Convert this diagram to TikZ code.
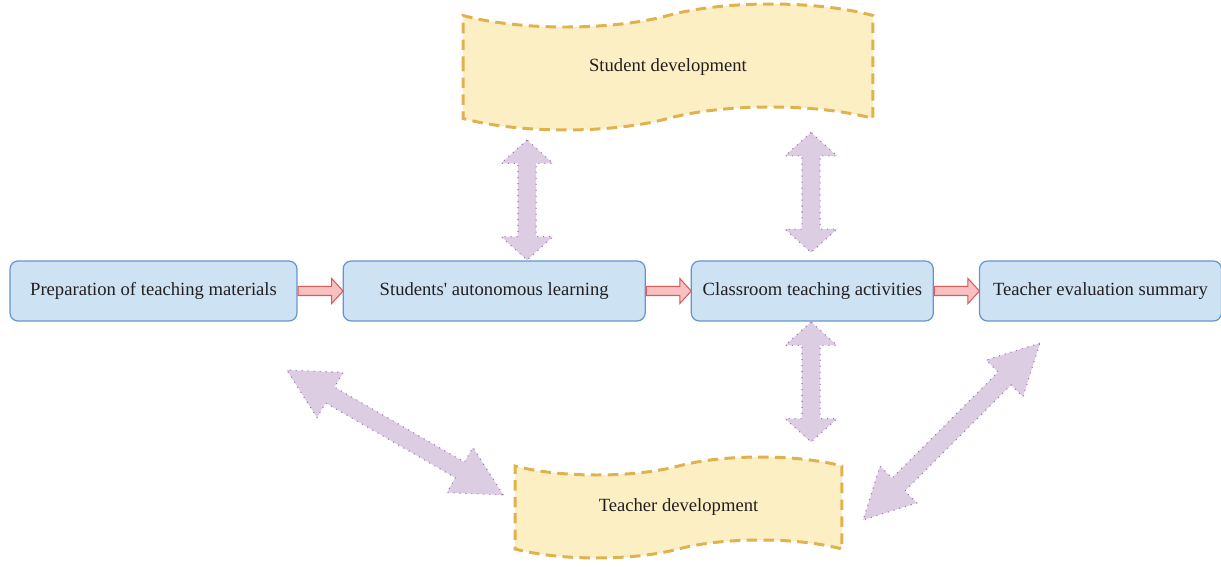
\documentclass[tikz,border=0pt]{standalone}
\usepackage{fontspec}
\setmainfont{Liberation Serif}
\usetikzlibrary{positioning,shapes.arrows,shapes.symbols}
\definecolor{boxFill}{RGB}{205,226,243}
\definecolor{boxLine}{RGB}{100,150,205}
\definecolor{tapeFill}{RGB}{253,239,196}
\definecolor{tapeLine}{RGB}{223,178,78}
\definecolor{flowFill}{RGB}{248,193,193}
\definecolor{flowLine}{RGB}{218,90,90}
\definecolor{linkFill}{RGB}{221,205,227}
\definecolor{linkLine}{RGB}{160,110,180}
\definecolor{textColor}{RGB}{35,31,32}
\tikzstyle{stageBox} = [draw=boxLine, fill=boxFill, line width=0.7pt, rounded corners=0.16cm, minimum height=1.2cm, inner sep=0pt, text=textColor]
\tikzstyle{tapeBox} = [tape, draw=tapeLine, fill=tapeFill, line width=1.7pt, dash pattern=on 6pt off 3.6pt, tape bend top=in and out, tape bend bottom=in and out, text=textColor]
\tikzstyle{flowArrow} = [single arrow, draw=flowLine, fill=flowFill, line width=0.6pt, minimum height=0.9cm, minimum width=0pt, inner xsep=0pt, inner ysep=0.08cm, single arrow head extend=0.16cm, single arrow tip angle=95]
\tikzstyle{linkArrow} = [double arrow, draw=linkLine, fill=linkFill, line width=0.6pt, dash pattern=on 0.6pt off 2.8pt, minimum width=0pt, inner xsep=0pt, inner ysep=0.17cm, double arrow head extend=0.34cm]
\tikzstyle{linkStraight} = [linkArrow, minimum height=2.4cm, double arrow tip angle=96, rotate=90]
\tikzstyle{linkSlant} = [linkArrow, minimum height=5cm, double arrow tip angle=55]
\newcommand{\stageLink}[2]{\node [flowArrow, right=0pt of #1] (#1To#2) {};}

\begin{document}
\begin{tikzpicture}[x=0.02cm, y=-0.02cm, every node/.style={font=\fontsize{10.6}{13}\selectfont}]
        \useasboundingbox (0,0) rectangle (1221,567);

        \node [stageBox, minimum width=5.74cm] (prep) at (153.5,291) {Preparation of teaching materials};
        \node [stageBox, minimum width=6.04cm, right=0.9cm of prep] (auto) {Students\textquotesingle\ autonomous learning};
        \node [stageBox, minimum width=4.84cm, right=0.9cm of auto] (class) {Classroom teaching activities};
        \node [stageBox, minimum width=4.84cm, right=0.9cm of class] (eval) {Teacher evaluation summary};
        \stageLink{prep}{auto}
        \stageLink{auto}{class}
        \stageLink{class}{eval}

        \node [tapeBox, minimum width=8.2cm, minimum height=2.52cm, tape bend height=0.46cm] (student) at (668,67) {Student development};
        \node [tapeBox, minimum width=6.54cm, minimum height=2.02cm, tape bend height=0.36cm] (teacher) at (678.5,507.5) {Teacher development};

        \node [linkStraight] (autoStudent) at (527,200) {};
        \node [linkStraight] (classStudent) at (811,192.5) {};
        \node [linkStraight] (classTeacher) at (811,382) {};
        \node [linkSlant, rotate=-30] (prepTeacher) at (395,432.5) {};
        \node [linkSlant, rotate=45] (evalTeacher) at (951.5,431.5) {};
      \end{tikzpicture}
\end{document}
